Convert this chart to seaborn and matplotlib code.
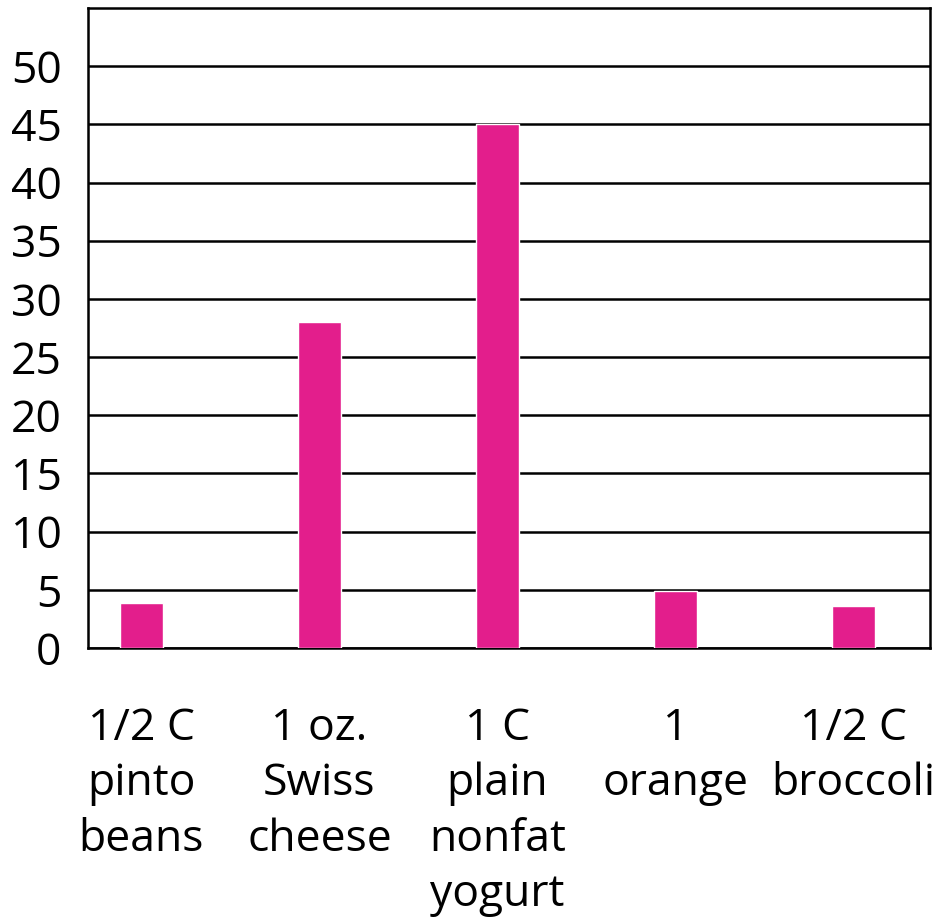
import matplotlib

matplotlib.use("Agg", force=True)

import matplotlib.pyplot as plt
import pandas as pd
import seaborn as sns

foods = [
    "1/2 C\npinto\nbeans",
    "1 oz.\nSwiss\ncheese",
    "1 C\nplain\nnonfat\nyogurt",
    "1\norange",
    "1/2 C\nbroccoli",
]
values = [3.9, 28.0, 45.0, 4.9, 3.6]
yticks = [0, 5, 10, 15, 20, 25, 30, 35, 40, 45, 50]

sns.set_style("white")
plt.rcParams["font.family"] = ["Open Sans", "DejaVu Sans"]
plt.rcParams["text.color"] = "black"
plt.rcParams["xtick.color"] = "black"
plt.rcParams["ytick.color"] = "black"

df = pd.DataFrame({"food": foods, "value": values})

W, H = 942, 923
fig = plt.figure(figsize=(W / 100, H / 100), dpi=100)
ax = fig.add_axes([88 / W, 1 - 648 / H, 842 / W, 640 / H])

sns.barplot(data=df, x="food", y="value", color="#E31E8C", width=0.24,
            saturation=1, ax=ax, zorder=3)

ax.set_xlim(-0.30, 4.43)
ax.set_ylim(0, 55)
ax.set_yticks(yticks)
ax.yaxis.grid(True, color="black", linewidth=1.8, zorder=0)
ax.set_axisbelow(True)
for s in ax.spines.values():
    s.set_color("black")
    s.set_linewidth(1.8)

ax.tick_params(axis="y", length=0, pad=19, labelsize=32)
ax.tick_params(axis="x", length=0, pad=42, labelsize=32)
for lbl in ax.get_xticklabels():
    lbl.set_linespacing(1.33)
    lbl.set_verticalalignment("top")
ax.set_xlabel("")
ax.set_ylabel("")

fig.savefig("out.png", dpi=100)
